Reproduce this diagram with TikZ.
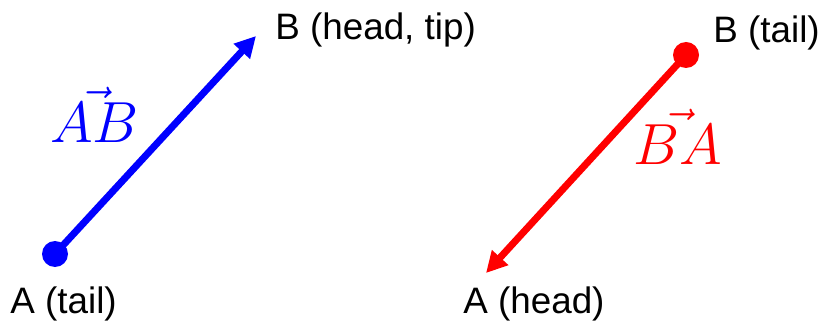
\RequirePackage{fix-cm}
\documentclass[tikz,border=0pt]{standalone}
\usepackage{fontspec}
\setmainfont{Liberation Sans}
\usetikzlibrary{arrows.meta}
\definecolor{vblue}{RGB}{0,0,255}
\definecolor{vred}{RGB}{255,0,0}
\tikzset{
  lbl/.style={anchor=base west, inner sep=0pt, font=\fontsize{18.4pt}{21pt}\selectfont},
  mlbl/.style={anchor=base west, inner sep=0pt, font=\fontsize{29pt}{33pt}\selectfont},
  vdot/.style={circle, fill=#1, inner sep=0pt, minimum size=13pt},
  vec/.style={draw=#1, line width=3.5pt, -{Triangle[length=10.5pt,width=10.5pt]}}
}
\begin{document}
\begin{tikzpicture}[x=0.5pt,y=-0.5pt]
\useasboundingbox (0,0) rectangle (822,325);
% blue vector A -> B
\node[vdot=vblue] (A1) at (55,254) {};
\coordinate (B1) at (256,36);
\draw[vec=vblue] (A1.center) -- (B1);
\node[lbl] (lB1) at (275,40) {B (head, tip)};
\node[lbl] (lA1) at (10,313) {A (tail)};
\node[mlbl, text=vblue] (v1) at (50,143) {$\vec{AB}$};
% red vector B -> A
\node[vdot=vred] (B2) at (686,55) {};
\coordinate (A2) at (486,273);
\draw[vec=vred] (B2.center) -- (A2);
\node[lbl] (lB2) at (713,43) {B (tail)};
\node[lbl] (lA2) at (463,313) {A (head)};
\node[mlbl, text=vred] (v2) at (633,165) {$\vec{BA}$};
\end{tikzpicture}
\end{document}
